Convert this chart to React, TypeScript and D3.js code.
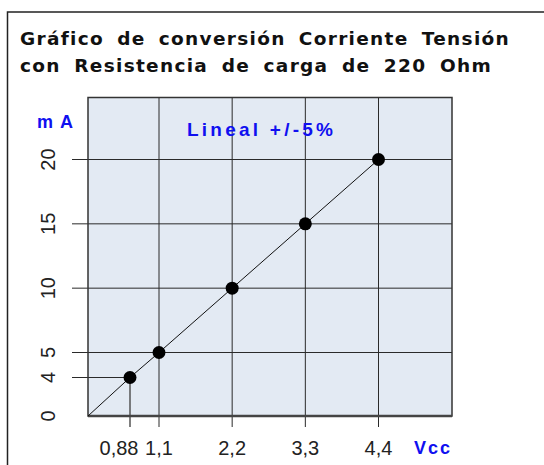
import React, { useEffect, useRef } from 'react'
import * as d3 from 'd3'

// tension (Vcc) vs corriente (mA)
const voltages = [0, 0.88, 1.1, 2.2, 3.3, 4.4]
const currents = [0, 4, 5, 10, 15, 20]
const xTicks = [0.88, 1.1, 2.2, 3.3, 4.4]
const xTickLabels = ['0,88', '1,1', '2,2', '3,3', '4,4']
const yTicks = [0, 4, 5, 10, 15, 20]
const yTickLabels = ['0', '4', '5', '10', '15', '20']
const titleLines = ['Gráfico de conversión Corriente Tensión', 'con Resistencia de carga de 220 Ohm']

const width = 544
const height = 465
const FONT = '"Liberation Sans", Arial, sans-serif'
const TITLE_FONT = '"DejaVu Sans", Verdana, sans-serif'

const App: React.FC = () => {
  const ref = useRef<SVGSVGElement | null>(null)

  useEffect(() => {
    if (!ref.current) {
      return
    }
    const svg = d3.select(ref.current)
    svg.selectAll('*').remove()

    const plot = { left: 88, right: 452, top: 97.5, bottom: 416 }

    // the original chart is not to scale near the origin, so the scales are piecewise
    const x = d3.scaleLinear().domain([0, 0.88, 1.1, 4.4]).range([plot.left, 130, 159, 378.5])
    const y = d3.scaleLinear().domain([0, 4, 5, 20]).range([plot.bottom, 377.5, 352.5, 159.5])

    // outer frame
    svg
      .append('rect')
      .attr('x', 7.5)
      .attr('y', 12)
      .attr('width', 700)
      .attr('height', 700)
      .attr('fill', 'white')
      .attr('stroke', '#222')
      .attr('stroke-width', 1.5)

    titleLines.forEach((line, i) => {
      const t = svg
        .append('text')
        .attr('x', 20)
        .attr('y', 45 + i * 27)
        .attr('font-family', TITLE_FONT)
        .attr('font-weight', 'bold')
        .attr('font-size', 18.5)
        .attr('letter-spacing', 1.3)
        .attr('fill', '#111')
        .text(line)
      // stretch the gaps between words so the line reaches its width in the original
      const target = i === 0 ? 490 : 472
      const node = t.node() as SVGTextElement
      const w = node.getComputedTextLength()
      const gaps = line.split(' ').length - 1
      t.attr('word-spacing', Math.max(0, (target - w) / gaps))
    })

    svg
      .append('rect')
      .attr('x', plot.left)
      .attr('y', plot.top)
      .attr('width', plot.right - plot.left)
      .attr('height', plot.bottom - plot.top)
      .attr('fill', '#e3eaf3')

    const grid = svg.append('g').attr('stroke', '#2a2a2a').attr('stroke-width', 1)

    // vertical grid lines (the first one only runs from the point down)
    grid
      .selectAll('line.vx')
      .data(xTicks)
      .enter()
      .append('line')
      .attr('x1', (d) => x(d))
      .attr('x2', (d) => x(d))
      .attr('y1', (d, i) => (i === 0 ? y(currents[1]) : plot.top))
      .attr('y2', plot.bottom + 11)
      .attr('stroke', (d, i) => (i === 0 ? '#555' : '#2a2a2a'))
      .attr('stroke-width', (d, i) => (i === 0 ? 1.5 : 1))

    grid
      .selectAll('line.hy')
      .data(yTicks.slice(1))
      .enter()
      .append('line')
      .attr('x1', plot.left - 16)
      .attr('x2', (d, i) => (i === 0 ? x(voltages[1]) : plot.right))
      .attr('y1', (d) => y(d))
      .attr('y2', (d) => y(d))

    // plot border
    svg
      .append('rect')
      .attr('x', plot.left)
      .attr('y', plot.top)
      .attr('width', plot.right - plot.left)
      .attr('height', plot.bottom - plot.top)
      .attr('fill', 'none')
      .attr('stroke', '#333')
      .attr('stroke-width', 1.5)

    svg
      .append('line')
      .attr('x1', plot.left)
      .attr('x2', plot.right)
      .attr('y1', plot.bottom)
      .attr('y2', plot.bottom)
      .attr('stroke', '#444')
      .attr('stroke-width', 2.5)

    const points = voltages.map((v, i) => [v, currents[i]] as [number, number])

    const line = d3
      .line<[number, number]>()
      .x((d) => x(d[0]))
      .y((d) => y(d[1]))

    svg
      .append('path')
      .datum(points)
      .attr('d', line)
      .attr('fill', 'none')
      .attr('stroke', '#111')
      .attr('stroke-width', 1)

    svg
      .selectAll('circle')
      .data(points.slice(1))
      .enter()
      .append('circle')
      .attr('cx', (d) => x(d[0]))
      .attr('cy', (d) => y(d[1]))
      .attr('r', 6.5)
      .attr('fill', '#000')

    // x tick labels
    svg
      .selectAll('text.xl')
      .data(xTicks)
      .enter()
      .append('text')
      .attr('x', (d, i) => x(d) + (i === 0 ? -11 : 0))
      .attr('y', 455)
      .attr('text-anchor', 'middle')
      .attr('font-family', FONT)
      .attr('font-size', 20)
      .attr('fill', '#222')
      .text((d, i) => xTickLabels[i])

    // y tick labels (rotated)
    svg
      .selectAll('text.yl')
      .data(yTicks)
      .enter()
      .append('text')
      .attr('transform', (d) => `translate(55,${y(d)}) rotate(-90)`)
      .attr('text-anchor', 'middle')
      .attr('font-family', FONT)
      .attr('font-size', 20)
      .attr('fill', '#222')
      .text((d, i) => yTickLabels[i])

    const blue = '#1010f0'
    svg
      .append('text')
      .attr('x', 37)
      .attr('y', 128)
      .attr('font-family', FONT)
      .attr('font-weight', 'bold')
      .attr('font-size', 18)
      .attr('fill', blue)
      .attr('textLength', 36)
      .attr('lengthAdjust', 'spacing')
      .text('m A')

    svg
      .append('text')
      .attr('x', 187)
      .attr('y', 136)
      .attr('font-family', FONT)
      .attr('font-weight', 'bold')
      .attr('font-size', 19)
      .attr('fill', blue)
      .attr('textLength', 146)
      .attr('lengthAdjust', 'spacing')
      .text('Lineal  +/-5%')

    svg
      .append('text')
      .attr('x', 414)
      .attr('y', 454)
      .attr('font-family', FONT)
      .attr('font-weight', 'bold')
      .attr('font-size', 18)
      .attr('fill', blue)
      .attr('textLength', 36)
      .attr('lengthAdjust', 'spacing')
      .text('Vcc')
  }, [])

  return (
    <svg
      ref={ref}
      width={width}
      height={height}
      style={{ position: 'absolute', left: 0, top: 0, background: 'white' }}
    />
  )
}

export default App
